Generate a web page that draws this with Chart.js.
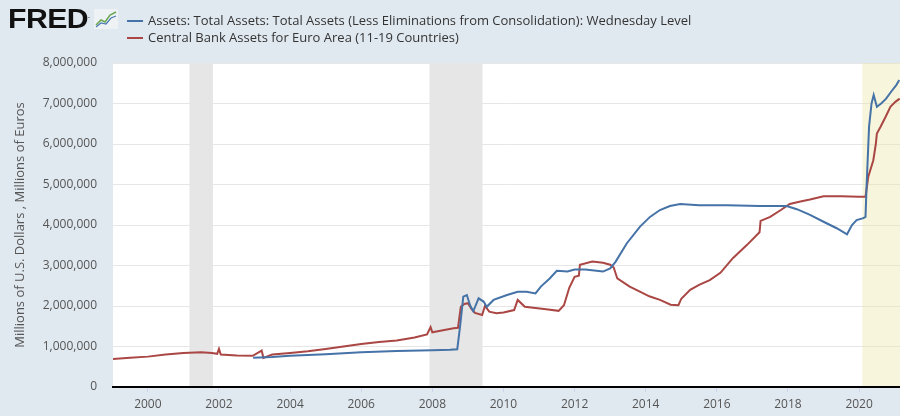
<!DOCTYPE html>
<html lang="en">
<head>
  <meta charset="UTF-8" />
  <title>FRED - Fed and ECB Total Assets</title>
  <style>
    html, body {
      margin: 0;
      padding: 0;
      background: #e1e9f0;
      width: 900px;
      height: 416px;
      overflow: hidden;
      font-family: 'Open Sans', sans-serif;
    }
    #wrap {
      position: relative;
      width: 900px;
      height: 416px;
    }
    canvas {
      position: absolute;
      left: 0;
      top: 0;
    }
    .logo {
      position: absolute;
      left: 8px;
      top: 4px;
      font-family: 'Liberation Sans', Arial, sans-serif;
      font-weight: bold;
      font-size: 27px;
      letter-spacing: -0.5px;
      color: #111;
      transform: scaleX(1.12);
      transform-origin: left top;
    }
    .logo sup {
      font-size: 6px;
      letter-spacing: 0;
    }
    .icon {
      position: absolute;
      left: 94px;
      top: 9px;
    }
    .legend {
      position: absolute;
      left: 127px;
      top: 12px;
      font-size: 13px;
      color: #333;
      line-height: 17px;
    }
    .legend span.swatch {
      display: inline-block;
      width: 16px;
      height: 2px;
      vertical-align: middle;
      margin-right: 5px;
      margin-top: -2px;
    }
  </style>
</head>
<body>
  <div id="wrap">
    <canvas id="fredChart" width="900" height="416"></canvas>
    <div class="logo">FRED<sup>.</sup></div>
    <svg class="icon" width="24" height="20" viewBox="0 0 24 20">
      <rect x="0" y="0" width="24" height="20" fill="#eef2f5" />
      <polyline points="2,16 7,11 11,13 16,6 22,3" fill="none" stroke="#6aa84f" stroke-width="1.5" />
      <polyline points="2,18 7,14 12,15 17,9 22,7" fill="none" stroke="#4a7ab5" stroke-width="1.2" />
    </svg>
    <div class="legend">
      <div><span class="swatch" style="background:#4572a7"></span>Assets: Total Assets: Total Assets (Less Eliminations from Consolidation): Wednesday Level</div>
      <div><span class="swatch" style="background:#aa4643"></span>Central Bank Assets for Euro Area (11-19 Countries)</div>
    </div>
  </div>

  <script src="https://cdn.jsdelivr.net/npm/chart.js"></script>
  <script>
    // Fed total assets (WALCL), millions of USD
    const fedYears = [
      2002.96, 2003.5, 2004.0, 2005.0, 2006.0, 2007.0, 2008.0, 2008.5, 2008.7, 2008.78,
      2008.87, 2008.97, 2009.06, 2009.15, 2009.3, 2009.44, 2009.53, 2009.72, 2010.1, 2010.4,
      2010.65, 2010.9, 2011.05, 2011.3, 2011.5, 2011.8, 2012.0, 2012.3, 2012.8, 2013.0,
      2013.15, 2013.47, 2013.84, 2014.12, 2014.4, 2014.68, 2014.97, 2015.5, 2016.3, 2017.2,
      2017.96, 2018.25, 2018.62, 2019.0, 2019.37, 2019.66, 2019.8, 2019.93, 2020.12, 2020.18,
      2020.21, 2020.28, 2020.35, 2020.41, 2020.5, 2020.62, 2020.76, 2020.9, 2021.05, 2021.13
    ];
    const fedValues = [
      720000, 740000, 770000, 810000, 860000, 890000, 910000, 920000, 930000, 1500000,
      2230000, 2270000, 2020000, 1870000, 2190000, 2110000, 1980000, 2150000, 2270000, 2350000,
      2350000, 2310000, 2480000, 2680000, 2870000, 2850000, 2900000, 2900000, 2850000, 2930000,
      3090000, 3550000, 3960000, 4200000, 4370000, 4470000, 4520000, 4490000, 4490000, 4470000,
      4470000, 4390000, 4250000, 4080000, 3920000, 3770000, 4000000, 4120000, 4170000, 4200000,
      4950000, 6430000, 7000000, 7210000, 6920000, 7000000, 7120000, 7290000, 7460000, 7580000
    ];

    // ECB central bank assets, millions of EUR
    const ecbYears = [
      1999.02, 1999.5, 2000.0, 2000.5, 2001.0, 2001.5, 2001.8, 2001.95, 2002.0, 2002.05,
      2002.5, 2002.95, 2003.2, 2003.25, 2003.5, 2004.0, 2004.5, 2005.0, 2005.5, 2006.0,
      2006.5, 2007.0, 2007.5, 2007.85, 2007.95, 2008.0, 2008.3, 2008.6, 2008.72, 2008.8,
      2008.9, 2009.0, 2009.1, 2009.2, 2009.4, 2009.48, 2009.6, 2009.8, 2010.0, 2010.3,
      2010.4, 2010.6, 2010.9, 2011.2, 2011.55, 2011.7, 2011.85, 2012.0, 2012.12, 2012.15,
      2012.5, 2012.8, 2013.0, 2013.1, 2013.2, 2013.55, 2013.85, 2014.1, 2014.4, 2014.7,
      2014.92, 2015.0, 2015.25, 2015.5, 2015.8, 2016.1, 2016.45, 2016.85, 2017.2, 2017.23,
      2017.5, 2017.8, 2018.05, 2018.35, 2018.62, 2019.0, 2019.5, 2020.0, 2020.18, 2020.26,
      2020.4, 2020.47, 2020.5, 2020.6, 2020.75, 2020.88, 2021.02, 2021.14
    ];
    const ecbValues = [
      690000, 720000, 750000, 800000, 840000, 860000, 840000, 820000, 940000, 800000,
      780000, 770000, 900000, 720000, 800000, 840000, 880000, 940000, 1000000, 1060000,
      1110000, 1150000, 1220000, 1300000, 1480000, 1350000, 1400000, 1450000, 1460000, 1980000,
      2050000, 2070000, 1930000, 1830000, 1780000, 2000000, 1860000, 1820000, 1840000, 1900000,
      2150000, 1980000, 1950000, 1920000, 1880000, 2020000, 2450000, 2720000, 2750000, 3020000,
      3100000, 3070000, 3020000, 2950000, 2680000, 2480000, 2350000, 2240000, 2150000, 2030000,
      2020000, 2180000, 2400000, 2520000, 2640000, 2820000, 3180000, 3510000, 3820000, 4100000,
      4200000, 4370000, 4520000, 4580000, 4630000, 4710000, 4710000, 4700000, 4700000, 5200000,
      5600000, 6000000, 6260000, 6420000, 6680000, 6920000, 7040000, 7120000
    ];

    // recession bands (NBER) in decimal years
    const bandStarts = [2001.17, 2007.92, 2020.09];
    const bandEnds = [2001.83, 2009.41, 2021.2];
    const bandColors = ['#e6e6e6', '#e6e6e6', 'rgba(236,232,170,0.4)'];

    const xTicks = [2000, 2002, 2004, 2006, 2008, 2010, 2012, 2014, 2016, 2018, 2020];
    const yTicks = [0, 1000000, 2000000, 3000000, 4000000, 5000000, 6000000, 7000000, 8000000];

    const toPoints = (xs, ys) => xs.map((x, i) => ({ x: x, y: ys[i] }));

    const plotBackground = {
      id: 'plotBackground',
      beforeDraw(chart) {
        const { ctx, chartArea: a } = chart;
        ctx.save();
        ctx.fillStyle = '#fff';
        ctx.fillRect(a.left, a.top, a.right - a.left, a.bottom - a.top);
        ctx.restore();
      },
      beforeDatasetsDraw(chart) {
        const { ctx, chartArea: a, scales: { x } } = chart;
        ctx.save();
        ctx.beginPath();
        ctx.rect(a.left, a.top, a.right - a.left, a.bottom - a.top - 1);
        ctx.clip();
        bandStarts.forEach((s, i) => {
          const x0 = x.getPixelForValue(s);
          const x1 = x.getPixelForValue(bandEnds[i]);
          ctx.fillStyle = bandColors[i];
          ctx.fillRect(x0, a.top, x1 - x0, a.bottom - a.top);
        });
        ctx.restore();
      }
    };

    const tickFont = { family: "'Open Sans', sans-serif", size: 12 };

    new Chart(document.getElementById('fredChart'), {
      type: 'line',
      data: {
        datasets: [
          {
            label: 'Assets: Total Assets: Total Assets (Less Eliminations from Consolidation): Wednesday Level',
            data: toPoints(fedYears, fedValues),
            borderColor: '#4572a7',
            borderWidth: 2,
            pointRadius: 0,
            tension: 0
          },
          {
            label: 'Central Bank Assets for Euro Area (11-19 Countries)',
            data: toPoints(ecbYears, ecbValues),
            borderColor: '#aa4643',
            borderWidth: 2,
            pointRadius: 0,
            tension: 0
          }
        ]
      },
      options: {
        responsive: false,
        animation: false,
        layout: { padding: { top: 63, right: 0, left: 0, bottom: 0 } },
        scales: {
          x: {
            type: 'linear',
            min: 1999.02,
            max: 2021.15,
            afterBuildTicks: s => { s.ticks = xTicks.map(v => ({ value: v })); },
            afterFit: s => { s.height = 29; },
            grid: {
              drawOnChartArea: false,
              drawTicks: true,
              tickLength: 5,
              tickColor: '#ccd6eb'
            },
            border: { color: '#000', width: 2 },
            ticks: {
              color: '#555',
              font: tickFont,
              padding: 5,
              maxRotation: 0,
              callback: v => String(v)
            }
          },
          y: {
            min: 0,
            max: 8000000,
            afterBuildTicks: s => { s.ticks = yTicks.map(v => ({ value: v })); },
            afterFit: s => { s.width = 113; },
            grid: { color: '#e6e6e6', drawTicks: false },
            border: { display: false },
            ticks: {
              color: '#555',
              font: tickFont,
              padding: 16,
              callback: v => v.toLocaleString('en-US')
            },
            title: {
              display: true,
              text: 'Millions of U.S. Dollars , Millions of Euros',
              color: '#555',
              font: { family: "'Open Sans', sans-serif", size: 13 },
              padding: { top: 12, bottom: 0 }
            }
          }
        },
        plugins: {
          legend: { display: false },
          tooltip: { enabled: false }
        }
      },
      plugins: [plotBackground]
    });
  </script>
</body>
</html>
